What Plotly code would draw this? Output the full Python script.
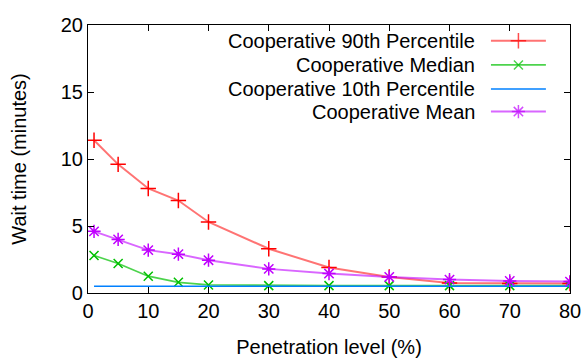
import plotly.graph_objects as go

penetration = [1, 5, 10, 15, 20, 30, 40, 50, 60, 70, 80]
p90 = [11.4, 9.6, 7.8, 6.9, 5.3, 3.3, 1.9, 1.2, 0.75, 0.7, 0.7]
median = [2.8, 2.2, 1.25, 0.8, 0.6, 0.55, 0.55, 0.55, 0.55, 0.55, 0.55]
p10 = [0.5, 0.5, 0.5, 0.5, 0.5, 0.5, 0.5, 0.5, 0.5, 0.5, 0.5]
mean = [4.6, 4.0, 3.2, 2.9, 2.45, 1.8, 1.45, 1.2, 1.0, 0.9, 0.85]

names = ["Cooperative 90th Percentile", "Cooperative Median",
         "Cooperative 10th Percentile", "Cooperative Mean"]
colors = ["#ff0000", "#00c000", "#0080ff", "#c000ff"]
line_colors = ["rgba(255,0,0,0.55)", "rgba(0,192,0,0.7)", "#0080ff", "rgba(192,0,255,0.6)"]
line_widths = [2, 1.8, 1.6, 2]
symbols = ["cross-thin-open", "x-thin-open", None, "asterisk-open"]
sizes = [11, 9, 0, 11]
series = [p90, median, p10, mean]

FONT = "Liberation Sans, Arial, sans-serif"
FS = 20
fig = go.Figure()
for name, col, lc, lw, sym, sz, vals in zip(names, colors, line_colors, line_widths,
                                            symbols, sizes, series):
    if sym:
        fig.add_trace(go.Scatter(
            x=penetration, y=vals, name=name, mode="lines+markers",
            line=dict(color=lc, width=lw),
            marker=dict(symbol=sym, size=sz, color=col, line=dict(color=col, width=1.5)),
            showlegend=False))
    else:
        fig.add_trace(go.Scatter(
            x=penetration, y=vals, name=name, mode="lines",
            line=dict(color=lc, width=lw), showlegend=False))

# custom gnuplot-style legend (text on left, sample on right)
row_y = [0.941, 0.851, 0.761, 0.677]
annotations = []
shapes = []
mk_x, mk_y, mk_sym, mk_col, mk_sz = [], [], [], [], []
for name, col, lc, lw, sym, sz, ry in zip(names, colors, line_colors, line_widths,
                                          symbols, sizes, row_y):
    annotations.append(dict(x=0.807, y=ry, xref="paper", yref="paper", text=name,
                            showarrow=False, xanchor="right", yanchor="middle",
                            font=dict(family=FONT, size=FS, color="#000000")))
    shapes.append(dict(type="line", xref="paper", yref="paper", x0=0.836, x1=0.950,
                       y0=ry, y1=ry, line=dict(color=lc, width=lw)))
    if sym:
        mk_x.append(0.893); mk_y.append(ry); mk_sym.append(sym); mk_col.append(col)
        mk_sz.append(sz)

fig.add_trace(go.Scatter(x=mk_x, y=mk_y, mode="markers", xaxis="x2", yaxis="y2",
                         marker=dict(symbol=mk_sym, size=mk_sz, color=mk_col,
                                     line=dict(color=mk_col, width=1.5)),
                         showlegend=False, hoverinfo="skip"))

axis_common = dict(showline=True, linecolor="#000000", linewidth=1.2, mirror="ticks",
                   ticks="inside", ticklen=6, tickcolor="#000000", tickwidth=1,
                   showgrid=False, zeroline=False, automargin=False,
                   tickfont=dict(family=FONT, size=FS, color="#000000"))

fig.update_layout(
    width=584, height=358,
    margin=dict(l=88, r=14, t=25, b=65),
    paper_bgcolor="white", plot_bgcolor="white",
    font=dict(family=FONT, size=FS, color="#000000"),
    xaxis=dict(range=[0, 80], dtick=10,
               title=dict(text="Penetration level (%)", standoff=18,
                          font=dict(family=FONT, size=FS)),
               **axis_common),
    yaxis=dict(range=[0, 20], dtick=5,
               title=dict(text="Wait time (minutes)", standoff=28,
                          font=dict(family=FONT, size=FS)),
               **axis_common),
    xaxis2=dict(overlaying="x", range=[0, 1], visible=False),
    yaxis2=dict(overlaying="y", range=[0, 1], visible=False),
    annotations=annotations, shapes=shapes,
)

fig.write_html("out.html", config={"displayModeBar": False},
               post_script="document.body.style.margin='0';document.body.style.overflow='hidden';")
